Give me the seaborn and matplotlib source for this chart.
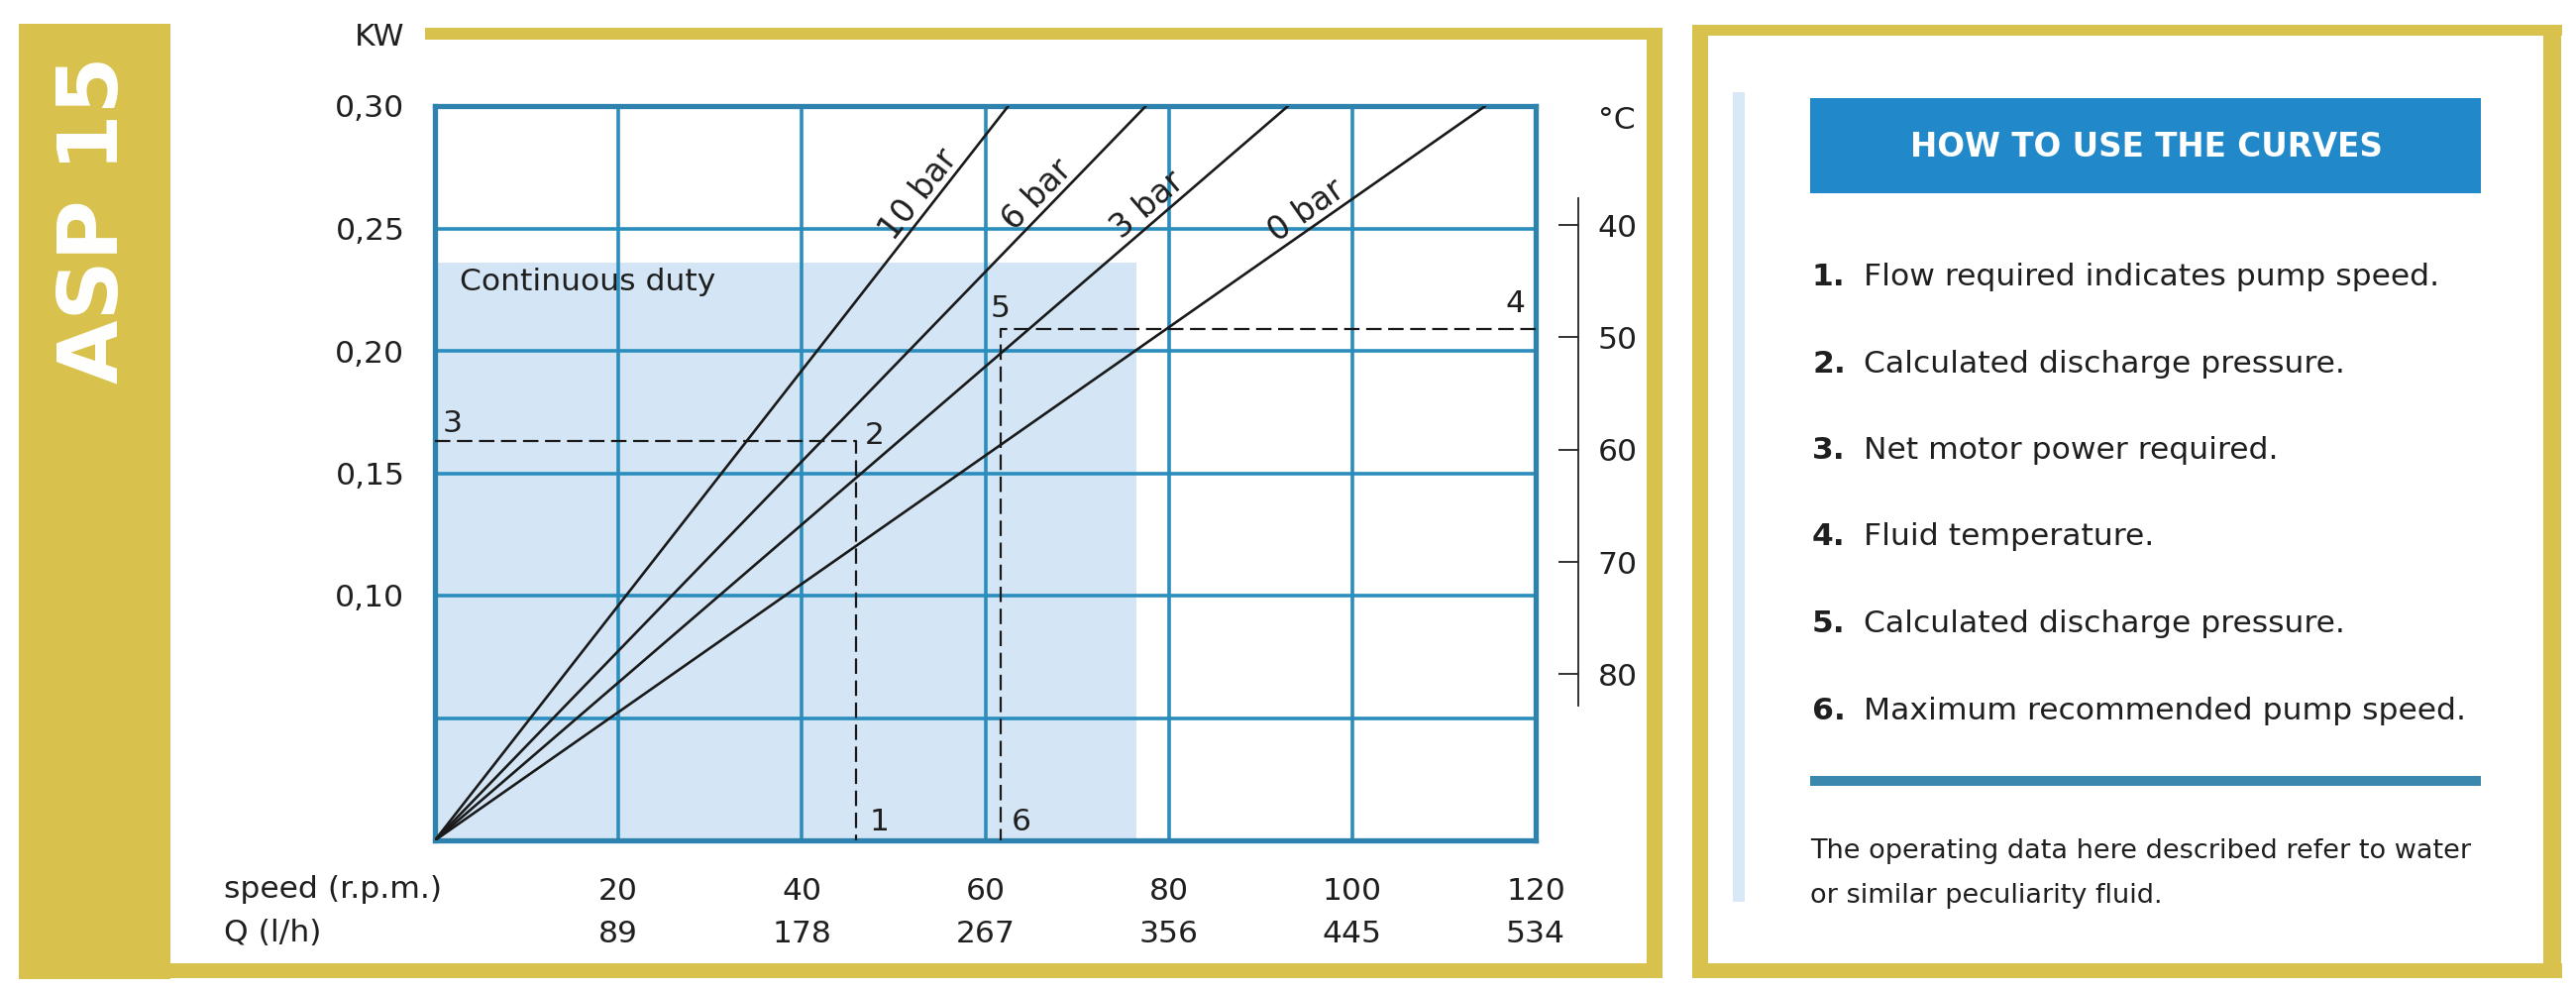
import numpy as np
import pandas as pd
import seaborn as sns
import matplotlib.pyplot as plt
from matplotlib.patches import Rectangle

sns.set_style("white")
plt.rcParams["font.family"] = ["DejaVu Sans"]

# axis values
speed_ticks = [20, 40, 60, 80, 100, 120]
flow_ticks = [89, 178, 267, 356, 445, 534]
kw_ticks = [0.00, 0.05, 0.10, 0.15, 0.20, 0.25, 0.30]
kw_labels = ["", "", "0,10", "0,15", "0,20", "0,25", "0,30"]
temp_ticks = [40, 50, 60, 70, 80]

# pressure curves (rpm where each line reaches 0,30 kW)
curve_names = ["10 bar", "6 bar", "3 bar", "0 bar"]
curve_rpm = [62.5, 77.5, 93.0, 114.5]
curve_kw = [0.0, 0.30]
curve_label_at = [0.866, 0.864, 0.848, 0.839]

# continuous duty area
duty_rpm = [0.0, 76.5]
duty_kw = 0.236

# worked examples: 1-2-3 and 4-5-6
ex1_rpm, ex1_kw = 45.9, 0.163
ex2_rpm, ex2_kw = 61.7, 0.209

steps = [
    "Flow required indicates pump speed.",
    "Calculated discharge pressure.",
    "Net motor power required.",
    "Fluid temperature.",
    "Calculated discharge pressure.",
    "Maximum recommended pump speed.",
]

gold = "#d8c14c"
grid_c = "#2a8dbd"
border_c = "#2d82ae"
fill_c = "#d4e6f6"
txt = "#1f1f1f"
fs = 22.6

fig = plt.figure(figsize=(26, 10), dpi=100, facecolor="white")

# background layer in pixel units (frames, panel text)
bg = fig.add_axes([0, 0, 1, 1], zorder=0)
bg.set_xlim(0, 2600)
bg.set_ylim(1000, 0)
bg.axis("off")

for x, y, w, h in [(19, 24, 153, 964), (429, 28, 1249, 12), (1662, 28, 16, 959),
                   (19, 972, 1659, 15), (1708, 25, 878, 11), (1708, 25, 16, 962),
                   (2567, 25, 18, 962), (1708, 972, 878, 15)]:
    bg.add_patch(Rectangle((x, y), w, h, color=gold, lw=0))

bg.text(95, 222, "ASP 15", rotation=90, color="white", fontsize=60,
        fontweight="bold", ha="center", va="center")
bg.text(408, 38, "KW", ha="right", va="center", fontsize=fs, color=txt)
bg.text(1613, 122, "°C", ha="left", va="center", fontsize=fs, color=txt)
bg.text(226, 898, "speed (r.p.m.)", ha="left", va="center", fontsize=fs, color=txt)
bg.text(226, 942, "Q (l/h)", ha="left", va="center", fontsize=fs, color=txt)

# right panel
bg.add_patch(Rectangle((1749, 93), 12, 817, color="#d9e8f6", lw=0))
bg.add_patch(Rectangle((1827, 99), 677, 96, color="#2189c9", lw=0))
bg.text(2166, 148, "HOW TO USE THE CURVES", color="white", fontsize=23.5,
        fontweight="bold", ha="center", va="center")
for i, s in enumerate(steps):
    yb = 288 + i * 87.5
    bg.text(1829, yb, f"{i + 1}.", fontsize=fs, fontweight="bold", color=txt,
            ha="left", va="baseline")
    bg.text(1881, yb, s, fontsize=fs, color=txt, ha="left", va="baseline")
bg.add_patch(Rectangle((1827, 783), 677, 10, color="#3a88ad", lw=0))
bg.text(1827, 866, "The operating data here described refer to water",
        fontsize=19.5, color=txt, ha="left", va="baseline")
bg.text(1827, 911, "or similar peculiarity fluid.",
        fontsize=19.5, color=txt, ha="left", va="baseline")

# main chart
ax = fig.add_axes([439 / 2600, 152 / 1000, 1111 / 2600, 741 / 1000], zorder=2)
ax.set_facecolor("white")
ax.set_xlim(0, 120)
ax.set_ylim(0, 0.30)
ax.set_axisbelow(True)

ax.fill_between(duty_rpm, 0, duty_kw, color=fill_c, lw=0, zorder=0.2)

rows = []
for name, end in zip(curve_names, curve_rpm):
    rows.append({"curve": name, "rpm": 0.0, "kw": curve_kw[0]})
    rows.append({"curve": name, "rpm": end, "kw": curve_kw[1]})
curves = pd.DataFrame(rows)
sns.lineplot(data=curves, x="rpm", y="kw", hue="curve", hue_order=curve_names,
             palette=["#1a1a1a"] * 4, legend=False, sort=False, linewidth=1.9,
             ax=ax, zorder=3)

for name, end, t in zip(curve_names, curve_rpm, curve_label_at):
    p0 = ax.transData.transform((0, curve_kw[0]))
    p1 = ax.transData.transform((end, curve_kw[1]))
    ang = np.degrees(np.arctan2(p1[1] - p0[1], p1[0] - p0[0]))
    ax.text(end * t, curve_kw[1] * t, name, rotation=ang, rotation_mode="anchor",
            ha="center", va="bottom", fontsize=23.5, color=txt, zorder=4)

dash = (0, (7, 3))
ax.plot([0, ex1_rpm, ex1_rpm], [ex1_kw, ex1_kw, 0], color="#1a1a1a", lw=1.6,
        linestyle=dash, zorder=3)
ax.plot([120, ex2_rpm, ex2_rpm], [ex2_kw, ex2_kw, 0], color="#1a1a1a", lw=1.6,
        linestyle=dash, zorder=3)

marks = [("3", 0.8, 0.167, "left"), ("2", 46.9, 0.162, "left"),
         ("1", 47.4, 0.004, "left"), ("5", 60.6, 0.2138, "left"),
         ("4", 118.9, 0.2158, "right"), ("6", 62.8, 0.004, "left")]
for s, x, y, ha in marks:
    ax.text(x, y, s, ha=ha, va="baseline", fontsize=fs, color=txt, zorder=4)

ax.text(2.7, 0.2247, "Continuous duty", ha="left", va="baseline",
        fontsize=fs, color=txt, zorder=4)

ax.set_xticks([0] + speed_ticks)
ax.set_xticklabels([""] + [f"{s}\n{q}" for s, q in zip(speed_ticks, flow_ticks)],
                   linespacing=1.62)
ax.set_yticks(kw_ticks)
ax.set_yticklabels(kw_labels)
ax.tick_params(axis="x", length=0, pad=26.5, labelsize=fs, labelcolor=txt)
ax.tick_params(axis="y", length=0, pad=22, labelsize=fs, labelcolor=txt)
ax.set_xlabel("")
ax.set_ylabel("")
ax.grid(True, color=grid_c, linewidth=2.6)
for sp in ax.spines.values():
    sp.set_color(border_c)
    sp.set_linewidth(3.8)

# temperature scale
axt = fig.add_axes([1583 / 2600, 288 / 1000, 10 / 2600, 512 / 1000], zorder=2)
axt.patch.set_alpha(0)
axt.set_ylim(82.8, 37.6)
axt.set_xticks([])
axt.set_yticks(temp_ticks)
axt.yaxis.tick_right()
axt.tick_params(axis="y", direction="in", length=14.4, width=1.3, pad=14,
                labelsize=fs, labelcolor=txt, color="#222222")
for k in ["left", "top", "bottom"]:
    axt.spines[k].set_visible(False)
axt.spines["right"].set_color("#222222")
axt.spines["right"].set_linewidth(1.3)

fig.savefig("out.png", dpi=100, facecolor="white")
